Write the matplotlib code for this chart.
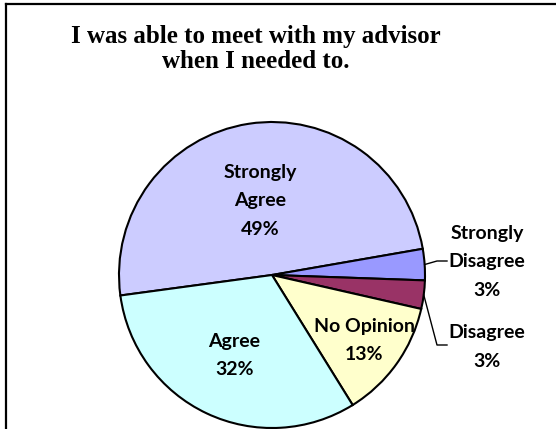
import matplotlib.pyplot as plt
import numpy as np

# --- Data (clockwise from the left edge of "Strongly Agree") ---
labels = ["Strongly\nAgree", "Strongly\nDisagree", "Disagree", "No Opinion", "Agree"]
shares = [49.4, 3.3, 3.0, 12.6, 31.7]
colors = ["#CCCCFF", "#9999FF", "#993366", "#FFFFCC", "#CCFFFF"]
title = "I was able to meet with my advisor\nwhen I needed to."

# --- Layout (pixel space, y up) ---
W, H = 556, 429
CENTER = (272, 154)
RADIUS = 153
inside_dist = {0: 0.49, 3: 0.74, 4: 0.58}
outside_pos = {1: (487, 167), 2: (487, 82)}
LABEL_FONT = "Lato"

fig = plt.figure(figsize=(W / 100, H / 100), dpi=100)
ax = fig.add_axes([0, 0, 1, 1])

wedges, _ = ax.pie(
    shares,
    colors=colors,
    startangle=187.7,
    counterclock=False,
    center=CENTER,
    radius=RADIUS,
    frame=True,
    wedgeprops=dict(edgecolor="black", linewidth=1.5),
)
ax.set_xlim(0, W)
ax.set_ylim(0, H)
ax.axis("off")

for i, (w, lab, v) in enumerate(zip(wedges, labels, shares)):
    text = f"{lab}\n{round(v)}%"
    mid = np.deg2rad((w.theta1 + w.theta2) / 2)
    if i in inside_dist:
        d = inside_dist[i] * RADIUS
        x = CENTER[0] + d * np.cos(mid)
        y = CENTER[1] + d * np.sin(mid)
    else:
        x, y = outside_pos[i]
        ex = CENTER[0] + RADIUS * np.cos(mid)
        ey = CENTER[1] + RADIUS * np.sin(mid)
        ly = y + 1 if i == 1 else y + 2
        ax.plot([ex, 437, 447], [ey, ly, ly], color="black", linewidth=1.0)
    ax.text(x, y, text, ha="center", va="center", fontsize=14,
            fontweight="bold", family=LABEL_FONT, linespacing=1.8)

ax.text(256, H - 49, title, ha="center", va="center", fontsize=18,
        fontweight="bold", family="Liberation Serif", linespacing=1.15)

# chart frame: only top and left edges visible in the crop
ax.plot([6, W], [H - 4, H - 4], color="black", linewidth=1.6, clip_on=False)
ax.plot([6, 6], [H - 4, 0], color="black", linewidth=1.6, clip_on=False)

fig.savefig("out.png", dpi=100)
